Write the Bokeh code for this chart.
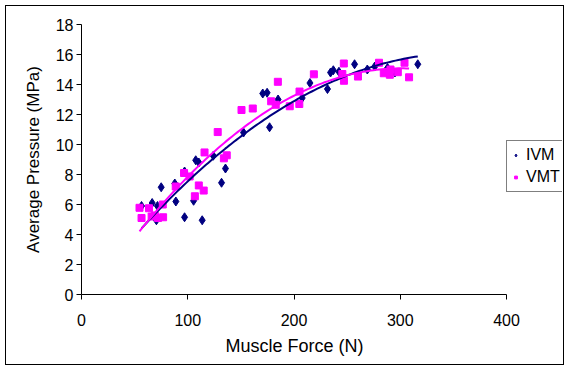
import numpy as np
from bokeh.plotting import figure
from bokeh.layouts import column
from bokeh.models import Range1d, Legend, LegendItem, FixedTicker, Title
from bokeh.embed import file_html
from bokeh.resources import INLINE

# IVM data (Muscle Force N, Average Pressure MPa)
ivm_force = [56.5, 66.5, 70.5, 71.5, 75, 88.8, 87.8, 97, 97, 105.5, 107.5, 110.4, 113.6,
             124, 131.8, 135.5, 152.5, 170.6, 174.7, 177, 185, 207.7, 215, 231.5, 234.4,
             237, 242.3, 257, 269, 276, 288, 295, 316.5]
ivm_pressure = [5.9, 6.1, 4.95, 5.9, 7.15, 6.2, 7.4, 8.2, 5.15, 6.25, 8.95, 8.8, 4.95,
                9.25, 7.45, 8.4, 10.8, 13.4, 13.45, 11.15, 13.0, 13.1, 14.1, 13.7, 14.8,
                14.95, 14.85, 15.35, 15.0, 15.2, 15.1, 14.8, 15.35]

# VMT data
vmt_force = [54.6, 56.5, 63.5, 66, 69, 72, 76.8, 76.5, 88.7, 96.5, 101.8, 106.7, 110.4,
             115, 115.8, 128.2, 134, 136.7, 150.6, 161.2, 178.5, 182.8, 184.8, 196,
             205.2, 205, 218.7, 246.9, 245.5, 247, 260.2, 280, 284.5, 290.2, 290.8,
             297.7, 304, 308.3]
vmt_pressure = [5.78, 5.1, 5.75, 5.2, 5.27, 5.1, 5.15, 6.0, 7.2, 8.1, 7.87, 6.55, 7.27,
                6.93, 9.47, 10.83, 9.08, 9.28, 12.3, 12.4, 12.88, 12.65, 14.18, 12.55,
                13.53, 12.7, 14.68, 15.4, 14.7, 14.25, 14.53, 15.45, 14.75, 14.65, 15.0,
                14.82, 15.45, 14.48]

x_ticks = [0, 100, 200, 300, 400]
y_ticks = [0, 2, 4, 6, 8, 10, 12, 14, 16, 18]

NAVY = "#000080"
MAGENTA = "#FF00FF"
FONT = "Liberation Sans"

def trend(xs, ys, deg=2):
    c = np.polyfit(xs, ys, deg)
    xx = np.linspace(min(xs), max(xs), 100)
    return xx, np.polyval(c, xx)

W, H = 557, 358
LEFT, AXIS_END_PX, TOP, BOTTOM = 75, 500, 18, 70
frame_w = W - LEFT - 1
x_end = x_ticks[-1] * frame_w / (AXIS_END_PX - LEFT)

p = figure(width=W, height=H, output_backend="svg", toolbar_location=None,
           x_range=Range1d(0, x_end), y_range=Range1d(0, 18),
           min_border_left=LEFT, min_border_right=1, min_border_top=TOP,
           min_border_bottom=BOTTOM)
p.outline_line_color = None
p.xgrid.visible = False
p.ygrid.visible = False

r1 = p.scatter(ivm_force, ivm_pressure, marker="diamond", size=9, color=NAVY)
r2 = p.scatter(vmt_force, vmt_pressure, marker="square", size=7, color=MAGENTA)

tx, ty = trend(ivm_force, ivm_pressure)
p.line(tx, ty, color=NAVY, line_width=2)
tx2, ty2 = trend(vmt_force, vmt_pressure)
p.line(tx2, ty2, color=MAGENTA, line_width=2)

for ax in (p.xaxis[0], p.yaxis[0]):
    ax.axis_line_color = "black"
    ax.major_tick_line_color = "black"
    ax.major_tick_in = 0
    ax.major_tick_out = 5
    ax.minor_tick_line_color = None
    ax.major_label_text_font = FONT
    ax.major_label_text_font_size = "16px"
    ax.major_label_text_color = "black"
    ax.axis_label_text_font = FONT
    ax.axis_label_text_font_size = "17px"
    ax.axis_label_text_font_style = "normal"
    ax.axis_label_text_color = "black"

p.xaxis.ticker = FixedTicker(ticks=x_ticks)
p.xaxis.bounds = (x_ticks[0], x_ticks[-1])
p.yaxis.ticker = FixedTicker(ticks=y_ticks)
p.yaxis.axis_label = "Average Pressure (MPa)"
p.xaxis.major_label_standoff = 14
p.yaxis.major_label_standoff = 3
p.yaxis.axis_label_standoff = 10

# x-axis title centred under the 0..400 axis span (frame extends further right for the legend)
xtitle = Title(text="Muscle Force (N)", align="left", offset=144,
               text_font=FONT, text_font_size="18px", text_font_style="normal",
               text_color="black", standoff=11)
p.add_layout(xtitle, "below")

legend = Legend(items=[LegendItem(label="IVM", renderers=[r1]),
                       LegendItem(label="VMT", renderers=[r2])],
                location=(AXIS_END_PX - LEFT, 102))
legend.border_line_color = "black"
legend.border_line_width = 1
legend.background_fill_alpha = 1
legend.label_text_font = FONT
legend.label_text_font_size = "16px"
legend.label_text_color = "black"
legend.glyph_width = 7
legend.glyph_height = 18
legend.label_height = 18
legend.label_standoff = 7
legend.padding = 5
legend.spacing = 4
legend.margin = 0
p.add_layout(legend, "center")

layout = column(p, margin=(5, 0, 0, 5), styles={"border": "1px solid black"})

open("out.html", "w").write(file_html(layout, INLINE))
